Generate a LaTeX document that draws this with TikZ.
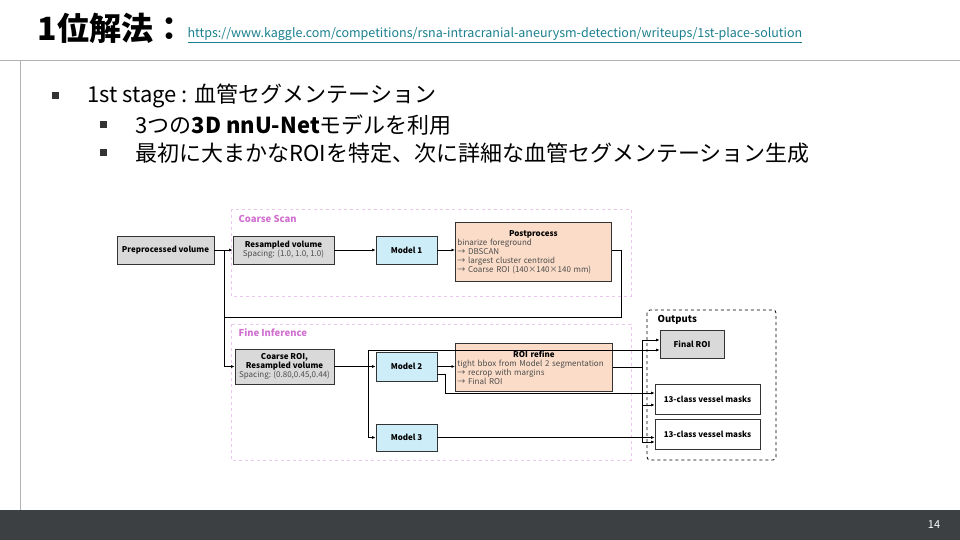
\documentclass[tikz,border=0pt]{standalone}
\usepackage{fontspec}
\setmainfont{Noto Sans CJK JP}
\usetikzlibrary{positioning,arrows.meta}
\definecolor{boxgray}{HTML}{D9D9D9}
\definecolor{boxblue}{HTML}{CDEEF9}
\definecolor{boxpeach}{HTML}{FBDCC8}
\definecolor{regionpink}{HTML}{D070D0}
\definecolor{linkteal}{HTML}{1A7F8E}
\definecolor{footer}{HTML}{3C4043}
\tikzset{
  blk/.style={draw=black!80, line width=0.8pt, align=center, inner sep=1pt, font=\fontsize{8}{9}\selectfont},
  region/.style={draw=regionpink!40, dashed, line width=0.5pt},
  flow/.style={-{Latex[length=3.5pt,width=3pt]}, line width=0.8pt},
  bul/.style={fill=black!80, minimum size=7pt, inner sep=0pt},
  btext/.style={anchor=west, font=\fontsize{22}{25}\selectfont}
}
\begin{document}
\begin{tikzpicture}[x=1pt,y=-1pt]
\useasboundingbox (0,0) rectangle (960,540);
% slide frame
\fill[footer] (0,510) rectangle (960,540);
\node[white, font=\fontsize{11}{12}\selectfont] (pagenum) at (934,525) {14};
\draw[black!30] (0,60) -- (960,60);
\draw[black!30] (20,60) -- (20,510);
\node[anchor=west, font=\fontsize{32}{34}\selectfont\bfseries] (title) at (34,28) {1位解法：};
\node[anchor=west, text=linkteal, font=\fontsize{12.5}{14}\selectfont] (link) at (184,35)
  {\underline{https://www.kaggle.com/competitions/rsna-intracranial-aneurysm-detection/writeups/1st-place-solution}};
% bullets
\node[bul] (b1) at (55,96) {};
\node[btext] (t1) at (84,96) {1st stage : 血管セグメンテーション};
\node[bul] (b2) at (103,125) {};
\node[btext] (t2) at (132,125) {3つの\textbf{3D nnU-Net}モデルを利用};
\node[bul] (b3) at (103,153) {};
\node[btext] (t3) at (132,153) {最初に大まかなROIを特定、次に詳細な血管セグメンテーション生成};
% regions
\draw[region] (231,209) rectangle (631,296);
\node[anchor=west, text=regionpink, font=\fontsize{9.5}{10}\selectfont\bfseries] (cslab) at (235,219) {Coarse Scan};
\draw[region] (231,324) rectangle (631,460);
\node[anchor=west, text=regionpink, font=\fontsize{9.5}{10}\selectfont\bfseries] (filab) at (235,333) {Fine Inference};
\draw[dashed, line width=0.8pt, rounded corners=3pt] (647,310) rectangle (776,460);
\node[anchor=west, font=\fontsize{9.5}{10}\selectfont\bfseries] (outlab) at (654,320) {Outputs};
% boxes
\node[blk, fill=boxgray, minimum width=97pt, minimum height=28pt] (pre) at (165.5,250) {\textbf{Preprocessed volume}};
\node[blk, fill=boxgray, minimum width=101pt, minimum height=28pt] (res) at (283.5,250) {\textbf{Resampled volume}\\\textcolor{black!70}{Spacing: (1.0, 1.0, 1.0)}};
\node[blk, fill=boxblue, minimum width=61pt, minimum height=28pt] (m1) at (406.5,250) {\textbf{Model 1}};
\node[blk, fill=boxpeach, minimum width=156pt, minimum height=59pt, align=left, anchor=north west, text width=152pt, text=black!70] (post) at (455,222)
  {\makebox[152pt]{\textcolor{black}{\textbf{Postprocess}}}\\binarize foreground\\→ DBSCAN\\→ largest cluster centroid\\→ Coarse ROI (140×140×140 mm)};
\node[blk, fill=boxgray, minimum width=99pt, minimum height=35pt] (croi) at (284.5,366.5) {\textbf{Coarse ROI,}\\\textbf{Resampled volume}\\\textcolor{black!70}{Spacing: (0.80,0.45,0.44)}};
\node[blk, fill=boxblue, minimum width=61pt, minimum height=29pt] (m2) at (406.5,366.5) {\textbf{Model 2}};
\node[blk, fill=boxpeach, minimum width=157pt, minimum height=48pt, align=left, anchor=north west, text width=153pt, text=black!70] (refine) at (455,343)
  {\makebox[153pt]{\textcolor{black}{\textbf{ROI refine}}}\\tight bbox from Model 2 segmentation\\→ recrop with margins\\→ Final ROI};
\node[blk, fill=boxblue, minimum width=61pt, minimum height=27pt] (m3) at (406.5,437.5) {\textbf{Model 3}};
\node[blk, fill=boxgray, minimum width=64pt, minimum height=28pt] (froi) at (692,344) {\textbf{Final ROI}};
\node[blk, fill=white, minimum width=105pt, minimum height=30pt] (mask1) at (707.5,399) {\textbf{13-class vessel masks}};
\node[blk, fill=white, minimum width=105pt, minimum height=30pt] (mask2) at (707.5,434) {\textbf{13-class vessel masks}};
% connectors
\coordinate (j1) at (224,250);
\coordinate (loop) at (621,317);
\coordinate (j2) at (368,366.5);
\coordinate (j3) at (642,367);
\coordinate (j4) at (445,374);
\draw[flow] (pre) -- (res);
\draw[flow] (res) -- (m1);
\draw[flow] (m1) -- (m1 -| post.west);
\draw[line width=0.8pt] (post.east |- m1) -| (loop) -| (j1);
\draw[flow] (j1) |- (croi.west);
\draw[flow] (croi) -- (m2);
\draw[flow] (j2) |- ([yshift=-6pt]froi.west);
\draw[flow] (j2) |- (m3);
\draw[flow] (m2) -- (m2 -| refine.west);
\draw[flow] (refine.east |- j3) -| (j3) |- ([yshift=4pt]froi.west);
\draw[flow] (j3) |- ([yshift=-6pt]mask1.west);
\draw[flow] (j3) |- ([yshift=-8pt]mask2.west);
\draw[flow] (m2.east |- j4) -| (j4) |- ([yshift=6pt]mask1.west);
\draw[flow] (m3) -- (mask2.west |- m3);
\end{tikzpicture}
\end{document}
